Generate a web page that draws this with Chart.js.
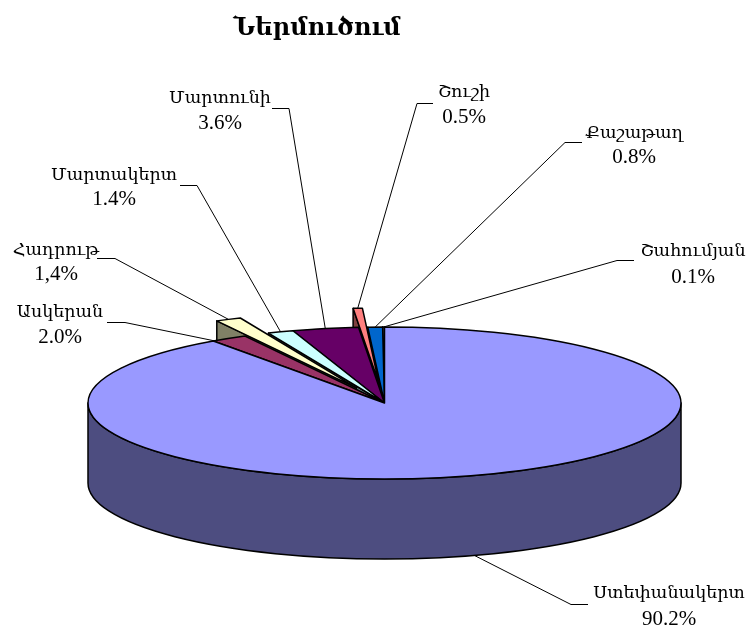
<!DOCTYPE html>
<html><head><meta charset="utf-8">
<style>html,body{margin:0;padding:0;background:#fff}canvas{display:block}</style>
<script src="https://cdn.jsdelivr.net/npm/chart.js@4"></script>
</head><body><canvas id="c" width="754" height="644"></canvas>
<script>
const titleText = 'Ներմուծում';
const categories = ['Ստեփանակերտ','Ասկերան','Հադրութ','Մարտակերտ','Մարտունի','Շուշի','Քաշաթաղ','Շահումյան'];
const values = [90.2,2.0,1.4,1.4,3.6,0.5,0.8,0.1];
const valueLabels = ['90.2%','2.0%','1,4%','1.4%','3.6%','0.5%','0.8%','0.1%'];
const colors = ['#9999FF','#993366','#FFFFCC','#CCFFFF','#660066','#FF8080','#0066CC','#CCCCFF'];
const sideColors = ['#4D4D80','#4D1A33','#808066','#668080','#330033','#804040','#003366','#666680'];
const explode = [0,0,0.22,0,0,0.25,0,0];

// layout only
const TILT = 0.2563, DEPTH = 80, RADIUS = 296.5;
const labelX = [669,60,56,114,220,464,634,693];
const labelY = [593,312,250,175,98,92,133,251];
const lineGap = [26,25,24,24,25,25,24,26];
const elbowX = [[588,571],[107,125],[97,115],[180,197],[272,289],[433,417],[582,565],[634,617]];
const elbowY = [604,322,258,185,108,103,142,260];
const anchorFrac = [0.5,0.03,0.5,0.5,0.5,0.5,0.5,0.5];

const pie3d = {
  id:'pie3d',
  beforeDatasetsDraw(chart){
    const ctx = chart.ctx, arcs = chart.getDatasetMeta(0).data;
    ctx.save();
    ctx.lineWidth = 1.5; ctx.strokeStyle = '#000'; ctx.lineJoin = 'round';
    const geo = arcs.map(a=>{
      const p = a.getProps(['x','y','startAngle','endAngle','outerRadius'],true);
      const mid=(p.startAngle+p.endAngle)/2, off=a.options.offset||0;
      return {a1:p.startAngle,a2:p.endAngle,mid,r:p.outerRadius,
        x:p.x+Math.cos(mid)*off, y:p.y+Math.sin(mid)*off*TILT};
    });
    for(let i=arcs.length-1;i>=0;i--){
      const g=geo[i], ry=g.r*TILT;
      const pt=(t,d=0)=>[g.x+Math.cos(t)*g.r, g.y+Math.sin(t)*ry+d];
      ctx.fillStyle = sideColors[i];
      // radial cut faces turned toward the viewer
      [[g.a1,-Math.cos(g.a1)],[g.a2,Math.cos(g.a2)]].forEach(([t,n])=>{
        if(n>1e-6){
          const e=pt(t);
          ctx.beginPath();
          ctx.moveTo(g.x,g.y); ctx.lineTo(e[0],e[1]);
          ctx.lineTo(e[0],e[1]+DEPTH); ctx.lineTo(g.x,g.y+DEPTH); ctx.closePath();
          ctx.fill(); ctx.stroke();
        }
      });
      // outer wall on the front half
      const w1=Math.max(g.a1,0), w2=Math.min(g.a2,Math.PI);
      if(w2>w1){
        ctx.beginPath();
        ctx.ellipse(g.x,g.y,g.r,ry,0,w1,w2);
        ctx.ellipse(g.x,g.y+DEPTH,g.r,ry,0,w2,w1,true);
        ctx.closePath(); ctx.fill(); ctx.stroke();
      }
      // top surface
      ctx.fillStyle = colors[i];
      ctx.beginPath();
      ctx.moveTo(g.x,g.y);
      ctx.ellipse(g.x,g.y,g.r,ry,0,g.a1,g.a2);
      ctx.closePath(); ctx.fill(); ctx.stroke();
    }
    // leader lines and labels
    ctx.lineWidth = 1; ctx.strokeStyle = '#000';
    ctx.fillStyle = '#000'; ctx.textAlign='center'; ctx.textBaseline='middle';
    const nameFont = '17.5px "Liberation Serif","DejaVu Serif",serif';
    const valueFont = '21px "Liberation Serif","DejaVu Serif",serif';
    categories.forEach((name,i)=>{
      const g=geo[i], t=g.a1+(g.a2-g.a1)*anchorFrac[i];
      const ax=g.x+Math.cos(t)*g.r;
      const ay=g.y+Math.sin(t)*g.r*TILT+(Math.sin(t)>0?DEPTH:0);
      ctx.beginPath();
      ctx.moveTo(elbowX[i][0],elbowY[i]+0.5); ctx.lineTo(elbowX[i][1],elbowY[i]+0.5); ctx.lineTo(ax,ay);
      ctx.stroke();
      ctx.font = nameFont;
      ctx.fillText(name,labelX[i],labelY[i]);
      ctx.font = valueFont;
      ctx.fillText(valueLabels[i],labelX[i],labelY[i]+lineGap[i]);
    });
    ctx.font = 'bold 24px "Liberation Serif","DejaVu Serif",serif';
    ctx.fillText(titleText,317,29);
    ctx.restore();
    return false;
  }
};

new Chart(document.getElementById('c'),{
  type:'pie',
  data:{labels:categories,datasets:[{data:values,backgroundColor:colors,
    offset:explode.map(e=>e*RADIUS),borderWidth:0}]},
  options:{responsive:false,animation:false,radius:RADIUS,rotation:0,
    layout:{padding:{left:15,right:0,top:162,bottom:0}},
    plugins:{legend:{display:false},tooltip:{enabled:false},title:{display:false}}},
  plugins:[pie3d]
});
</script></body></html>
